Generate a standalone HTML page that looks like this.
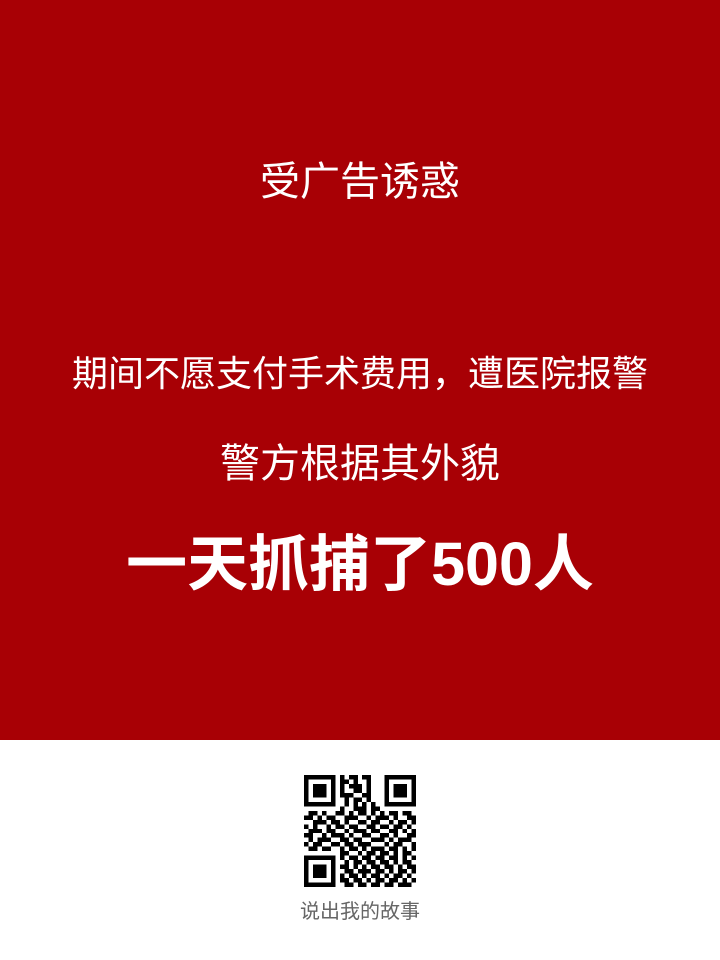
<!DOCTYPE html>
<html><head><meta charset="utf-8">
<style>
html,body{margin:0;padding:0;}
body{width:720px;height:960px;background:#fff;position:relative;overflow:hidden;font-family:"Liberation Sans","Noto Sans CJK SC",sans-serif;}
#poster{position:absolute;left:0;top:0;width:720px;height:740px;background:#a80005;}
.t{position:absolute;left:0;width:720px;text-align:center;color:#fff;white-space:nowrap;}
#qr{position:absolute;left:304px;top:775px;width:112px;height:112px;}
#cap{position:absolute;left:0;width:720px;top:895px;text-align:center;color:#666;font-size:20px;}
</style></head><body>
<div id="poster">
  <div class="t" style="top:149px;font-size:40px;">受广告诱惑</div>
  <div class="t" style="top:345px;font-size:36px;">期间不愿支付手术费用，遭医院报警</div>
  <div class="t" style="top:431px;font-size:40px;">警方根据其外貌</div>
  <div class="t" style="top:514px;font-size:61px;font-weight:bold;">一天抓捕了500人</div>
</div>
<svg id="qr" viewBox="0 0 25 25" shape-rendering="crispEdges">
  <g fill="#000">
    <rect x="0" y="0" width="7" height="7"/><rect x="1" y="1" width="5" height="5" fill="#fff"/><rect x="2" y="2" width="3" height="3"/>
    <rect x="18" y="0" width="7" height="7"/><rect x="19" y="1" width="5" height="5" fill="#fff"/><rect x="20" y="2" width="3" height="3"/>
    <rect x="0" y="18" width="7" height="7"/><rect x="1" y="19" width="5" height="5" fill="#fff"/><rect x="2" y="20" width="3" height="3"/>
  </g>
  <g id="mods" fill="#000"></g>
</svg>
<div id="cap">说出我的故事</div>
<script>
var rows=["00000000101101100000000",
"0000000011010010000000",
"00000000101110100000000",
"0000000010011010000000",
"00000000111001100000000",
"0000000001011010000000",
"00000001010101010000000",
"1011011010011101101101101",
"0110100110101101010110110",
"1101011001110010111010011",
"0011101101001101100101101",
"1010010110110011011011010",
"0111011001011101100110101",
"1100101110100110011010011",
"0101110011011001110101110",
"1011001101101110001011001",
"0110110010110101110110101",
"1101011011001011011010110",
"00000000101101101101101011",
"00000000010110110110101101",
"00000000110101011011010110",
"00000000011011101101011011",
"00000000101101011010110101",
"00000000110110101101101010",
"00000000011011011011011101"];
var g=document.getElementById('mods');
for(var y=0;y<25;y++){for(var x=0;x<25;x++){
 if((x<8&&y<8)||(x>16&&y<8)||(x<8&&y>16))continue;
 var c=rows[y]&&rows[y][x];
 if(c==='1'){var r=document.createElementNS('http://www.w3.org/2000/svg','rect');
 r.setAttribute('x',x);r.setAttribute('y',y);r.setAttribute('width',1);r.setAttribute('height',1);g.appendChild(r);}
}}
</script>
</body></html>
